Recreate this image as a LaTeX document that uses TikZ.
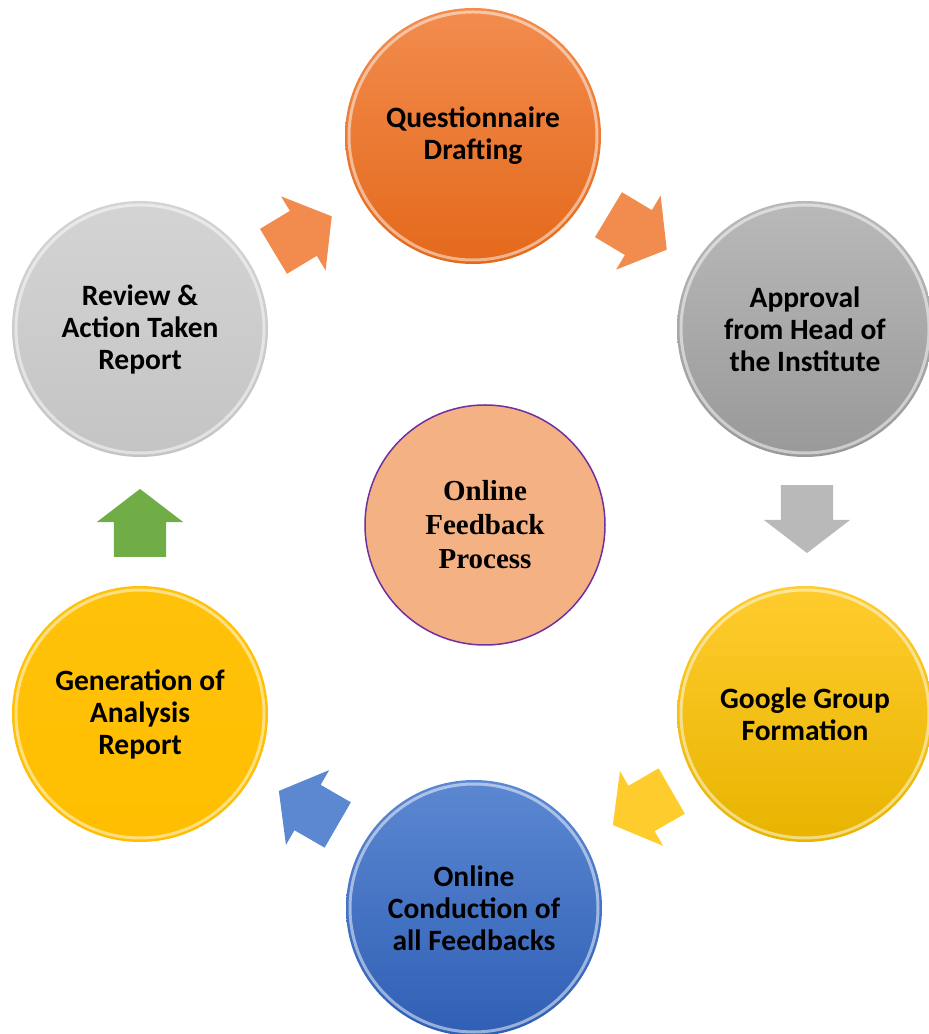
\documentclass[tikz,border=0pt]{standalone}
\usepackage{fontspec}
\setmainfont{Carlito}
\newfontfamily\timesfont{Liberation Serif}
\usetikzlibrary{shapes.arrows}

\definecolor{orangeA}{HTML}{F28C4E}
\definecolor{orangeB}{HTML}{E4691B}
\definecolor{greyA}{HTML}{B9B9B9}
\definecolor{greyB}{HTML}{999999}
\definecolor{yellowA}{HTML}{FFCC2E}
\definecolor{yellowB}{HTML}{E8B400}
\definecolor{blueA}{HTML}{5C88D2}
\definecolor{blueB}{HTML}{2F5FB5}
\definecolor{goldA}{HTML}{FFC20A}
\definecolor{goldB}{HTML}{FFBE00}
\definecolor{silverA}{HTML}{D4D4D4}
\definecolor{silverB}{HTML}{C4C4C4}
\definecolor{peach}{HTML}{F4B183}
\definecolor{violet}{HTML}{7030A0}
\definecolor{leaf}{HTML}{70AD47}

\begin{document}
\begin{tikzpicture}
		[x=1pt,y=1pt,
		stage/.style={circle,minimum size=256pt,inner sep=0pt,align=center,
			font=\fontsize{29.5}{32}\selectfont\bfseries,
			path picture={\draw[white,opacity=0.5,line width=3pt]
				(path picture bounding box.center) circle (124pt);}},
		flow/.style={single arrow,draw=none,inner xsep=0pt,inner ysep=26pt,
			minimum height=68pt,
			single arrow head extend=17pt,single arrow tip angle=105},]
		\useasboundingbox (0,0) rectangle (929,1034);
		% the six steps
		\node[stage,top color=orangeA,bottom color=orangeB,name=quest] at (473,898) {Questionnaire\\Drafting};
		\node[stage,top color=greyA,bottom color=greyB,name=approve] at (805,705) {Approval\\from Head of\\the Institute};
		\node[stage,top color=yellowA,bottom color=yellowB,name=google] at (805,320) {Google Group\\Formation};
		\node[stage,top color=blueA,bottom color=blueB,name=conduct] at (474,126) {Online\\Conduction of\\all Feedbacks};
		\node[stage,top color=goldA,bottom color=goldB,name=analysis] at (140,320) {Generation of\\Analysis\\Report};
		\node[stage,top color=silverA,bottom color=silverB,name=review] at (140,705) {Review \&\\Action Taken\\Report};
		% centre
		\node[circle,draw=violet,line width=1.5pt,fill=peach,minimum size=240pt,inner sep=0pt,align=center,
			font=\timesfont\fontsize{29}{34}\selectfont\bfseries,name=core] at (485,509) {Online\\Feedback\\Process};
		% arrows between the steps
		\node[flow,fill=orangeA,rotate=31,name=a1] at (294,795) {};
		\node[flow,fill=orangeA,rotate=-31,name=a2] at (629,807) {};
		\node[flow,fill=greyA,rotate=-90,name=a3] at (807,525) {};
		\node[flow,fill=yellowA,rotate=210,name=a4] at (651,231) {};
		\node[flow,fill=blueA,rotate=150,name=a5] at (317,221) {};
		\node[flow,fill=leaf,rotate=90,name=a6] at (140,501) {};
	\end{tikzpicture}
\end{document}
